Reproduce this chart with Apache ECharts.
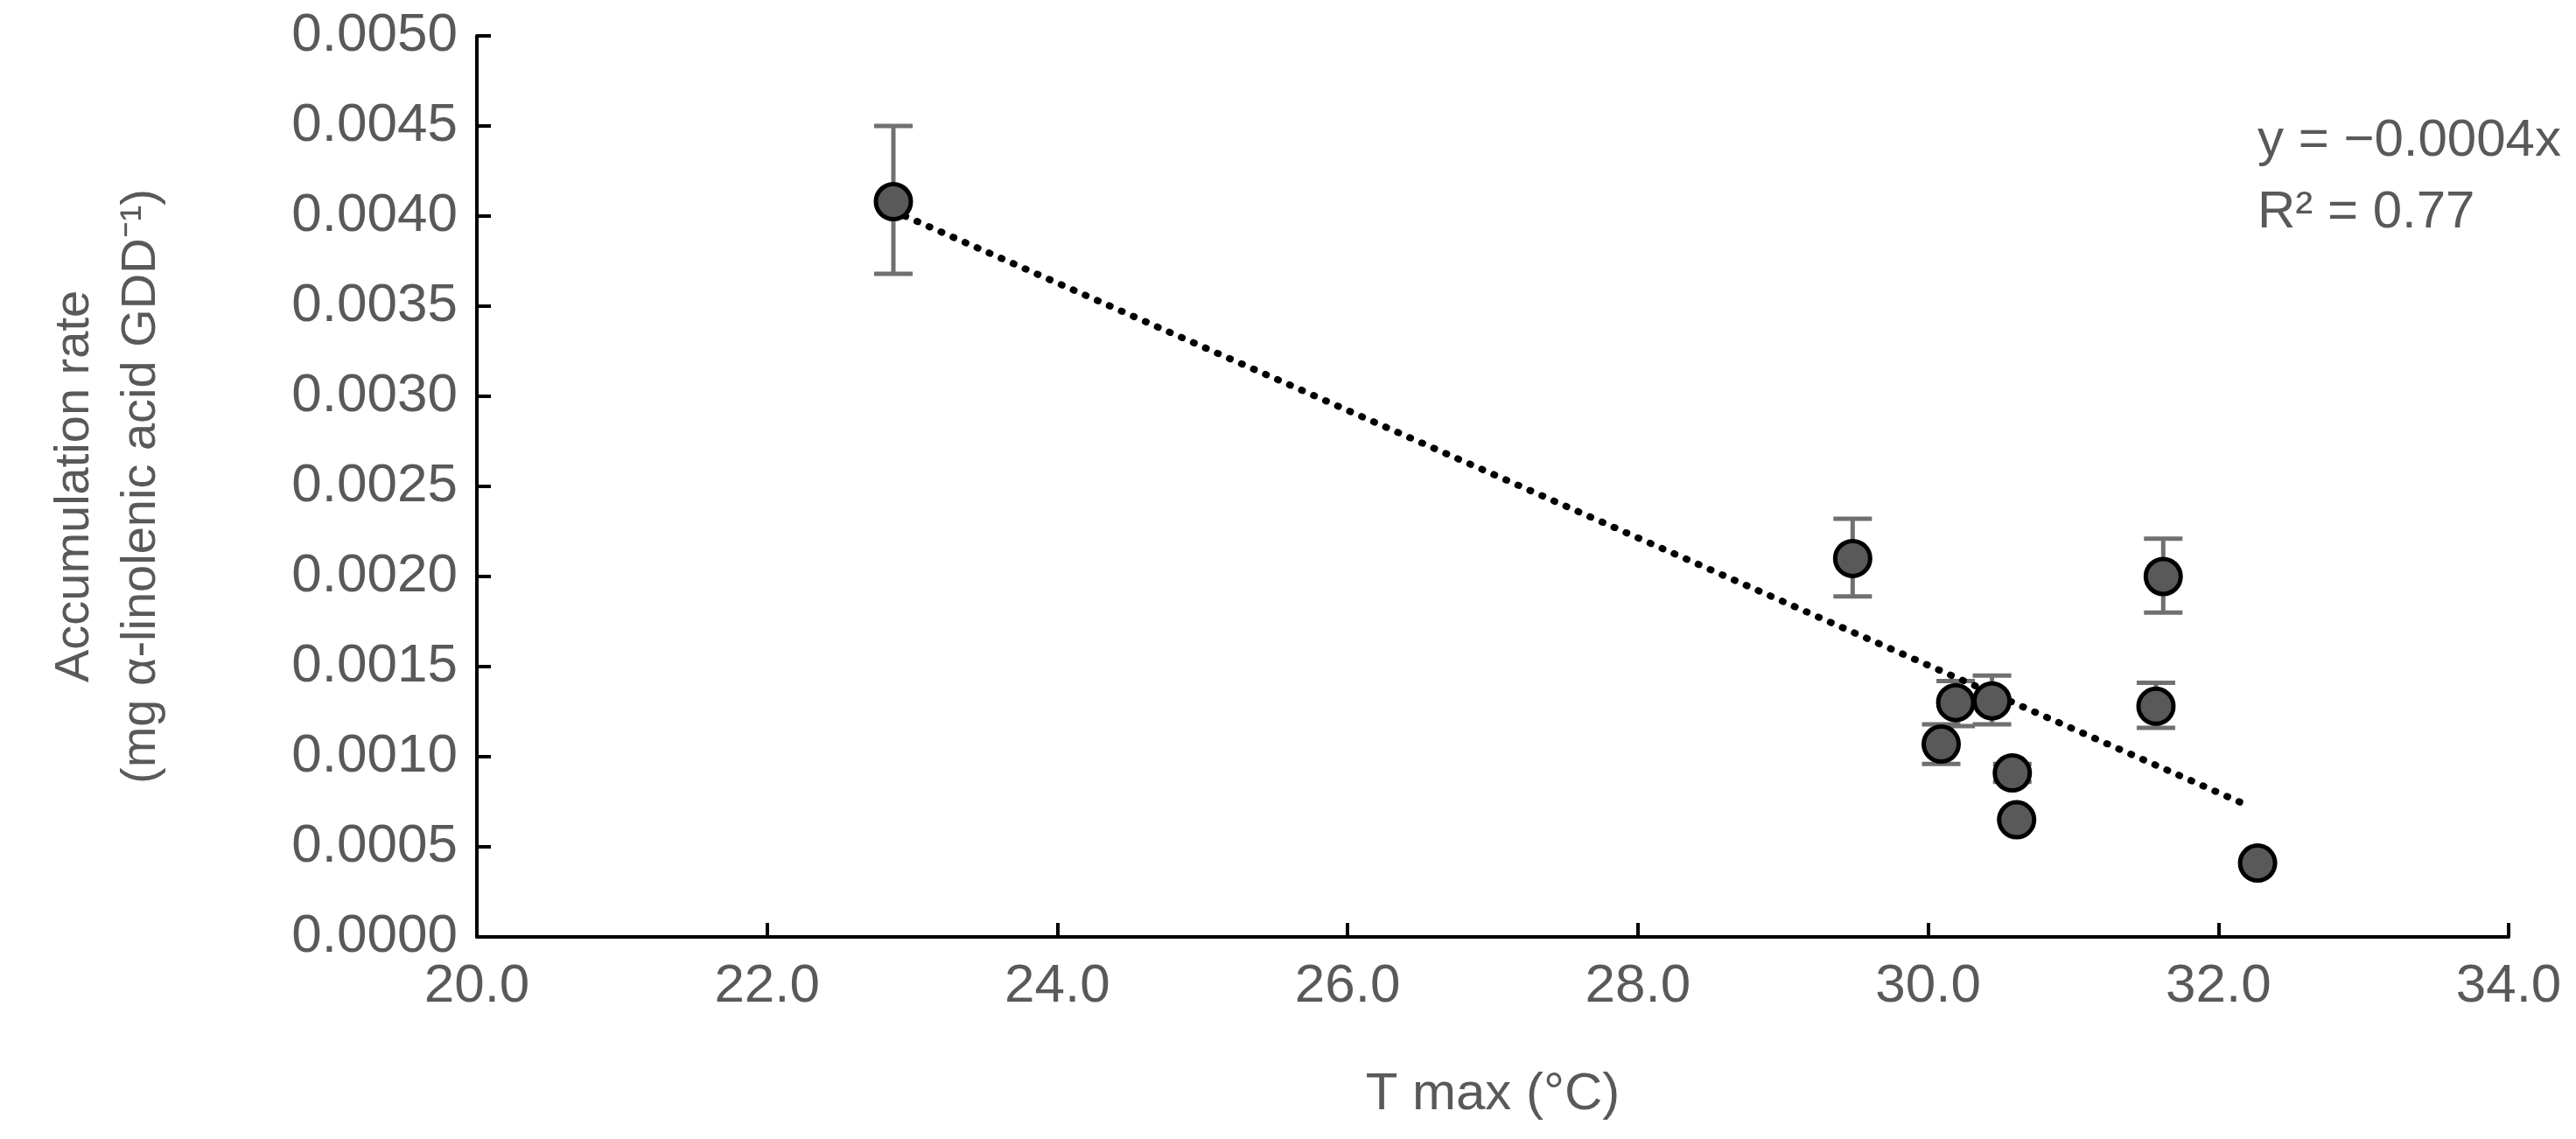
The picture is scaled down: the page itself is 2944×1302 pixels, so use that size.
<!DOCTYPE html>
<html>
<head>
<meta charset="utf-8">
<script src="https://cdn.jsdelivr.net/npm/echarts@6/dist/echarts.min.js"></script>
<style>html,body{margin:0;padding:0;background:#fff}#chart{width:2944px;height:1302px}</style>
</head>
<body>
<div id="chart"></div>
<script>
var tmax = [22.87, 29.48, 31.62, 30.19, 30.44, 30.09, 30.58, 30.61, 31.57, 32.27];
var rate = [0.00408, 0.00210, 0.00200, 0.00130, 0.00131, 0.00107, 0.00091, 0.00065, 0.00128, 0.00041];
var errLow = [0.00368, 0.00189, 0.00180, 0.00117, 0.00118, 0.00096, 0.00086, 0.00065, 0.00116, 0.00041];
var errHigh = [0.00450, 0.00232, 0.00221, 0.00142, 0.00145, 0.00118, 0.00096, 0.00065, 0.00141, 0.00041];
var trend = [[22.95, 0.00400], [32.2, 0.00073]];

var gray = '#595959';
var chart = echarts.init(document.getElementById('chart'));
var points = tmax.map(function (x, i) { return [x, rate[i]]; });
var bars = tmax.map(function (x, i) { return [x, errLow[i], errHigh[i]]; });

var option = {
    animation: false,
    grid: { left: 545, right: 77, top: 41, bottom: 231 },
    xAxis: {
        type: 'value', min: 20, max: 34, interval: 2,
        name: 'T max (°C)', nameLocation: 'middle', nameGap: 150,
        nameTextStyle: { color: gray, fontSize: 60, fontFamily: 'Liberation Sans' },
        axisLine: { lineStyle: { color: '#000', width: 4 } },
        axisTick: { inside: true, length: 16, lineStyle: { color: '#000', width: 4 } },
        axisLabel: { color: gray, fontSize: 62, margin: 26, fontFamily: 'Liberation Sans',
            formatter: function (v) { return v.toFixed(1); } },
        splitLine: { show: false }
    },
    yAxis: {
        type: 'value', min: 0, max: 0.005, interval: 0.0005,
        name: 'Accumulation rate\n(mg α-linolenic acid GDD⁻¹)', nameLocation: 'middle', nameGap: 345,
        nameTextStyle: { color: gray, fontSize: 56, lineHeight: 76, fontFamily: 'Liberation Sans' },
        axisLine: { show: true, lineStyle: { color: '#000', width: 4 } },
        axisTick: { show: true, inside: true, length: 16, lineStyle: { color: '#000', width: 4 } },
        axisLabel: { color: gray, fontSize: 62, margin: 22, fontFamily: 'Liberation Sans',
            formatter: function (v) { return v.toFixed(4); } },
        splitLine: { show: false }
    },
    graphic: [{
        type: 'text', left: 2580, top: 120,
        style: { text: 'y = −0.0004x + 0.012\nR² = 0.77', fill: gray, fontSize: 60, lineHeight: 82,
            align: 'center', fontFamily: 'Liberation Sans' }
    }],
    series: [{
        type: 'line', data: trend, symbol: 'none',
        lineStyle: { color: '#000', width: 8, type: [1, 14], cap: 'round' }
    }, {
        type: 'custom', data: bars,
        renderItem: function (params, api) {
            var x = api.value(0);
            var lo = api.coord([x, api.value(1)]);
            var hi = api.coord([x, api.value(2)]);
            var w = 22;
            var st = { stroke: '#707070', lineWidth: 5 };
            return { type: 'group', children: [
                { type: 'line', shape: { x1: lo[0], y1: lo[1], x2: hi[0], y2: hi[1] }, style: st },
                { type: 'line', shape: { x1: lo[0] - w, y1: lo[1], x2: lo[0] + w, y2: lo[1] }, style: st },
                { type: 'line', shape: { x1: hi[0] - w, y1: hi[1], x2: hi[0] + w, y2: hi[1] }, style: st }
            ] };
        },
        z: 3
    }, {
        type: 'scatter', data: points, symbolSize: 40,
        itemStyle: { color: '#595959', borderColor: '#000', borderWidth: 5, opacity: 1 },
        z: 4
    }]
};
chart.setOption(option);
window.addEventListener('resize', chart.resize);
</script>
</body>
</html>
